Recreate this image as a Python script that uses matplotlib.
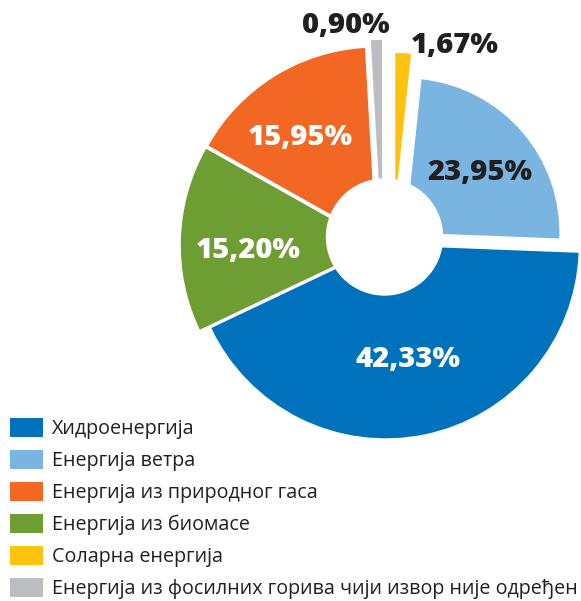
import matplotlib
matplotlib.use("Agg")
import matplotlib.pyplot as plt
from matplotlib.patches import Circle

# pie order: clockwise from 12 o'clock
sources = [
    "Соларна енергија",
    "Енергија ветра",
    "Хидроенергија",
    "Енергија из биомасе",
    "Енергија из природног гаса",
    "Енергија из фосилних горива чији извор није одређен",
]
shares = [1.67, 23.95, 42.33, 15.20, 15.95, 0.90]
legend_order = [2, 1, 4, 3, 0, 5]

colors = ["#FFC20E", "#7AB5E1", "#0071BC", "#6E9E33", "#F26724", "#BCBDC0"]
label_colors = ["#231F20", "#231F20", "white", "white", "white", "#231F20"]
dark = "#231F20"

# layout in pixel units (axes spans the whole figure)
hole_x, hole_y, hole_r = 384.5, 364.0, 58
wedge_shift = [(10.8, 34), (20.9, 4.5), (1.2, -8.3), (-6.7, -8.3), (-8.7, -2.7), (-2.5, -1)]
wedge_radius = [150, 154, 193, 197, 192, 198]
label_pos = [(70.5, 184.3), (95.5, 57), (23.2, -129.7), (-136.5, -21.3), (-84.5, 92), (-38.5, 203.7)]

plt.rcParams["font.family"] = ["Open Sans", "DejaVu Sans"]

fig = plt.figure(figsize=(5.81, 6.01), dpi=100)
ax = fig.add_axes([0, 0, 1, 1])

wedges, _ = ax.pie(
    shares,
    colors=colors,
    startangle=90,
    counterclock=False,
    center=(hole_x, hole_y),
    wedgeprops=dict(linewidth=0),
)
for w, (dx, dy), r in zip(wedges, wedge_shift, wedge_radius):
    w.set_center((hole_x + dx, hole_y + dy))
    w.set_radius(r)

ax.add_patch(Circle((hole_x, hole_y), hole_r, color="white", zorder=3))

for v, (lx, ly), c in zip(shares, label_pos, label_colors):
    txt = f"{v:.2f}".replace(".", ",") + "%"
    ax.text(hole_x + lx, hole_y + ly, txt, ha="center", va="baseline",
            fontsize=21, fontweight=800, color=c, zorder=4)

fs = 14.2
px = fs * 100 / 72
ax.legend(
    [wedges[i] for i in legend_order],
    [sources[i] for i in legend_order],
    loc="upper left",
    bbox_to_anchor=(10 / 581, 1 - 417.5 / 601),
    bbox_transform=fig.transFigure,
    frameon=False,
    fontsize=fs,
    labelcolor=dark,
    handlelength=32.7 / px,
    handleheight=22 / px,
    handletextpad=9 / px,
    labelspacing=0.55,
    borderpad=0,
    borderaxespad=0,
)

ax.set_xlim(0, 581)
ax.set_ylim(0, 601)
ax.set_aspect("equal")
ax.set_axis_off()

fig.savefig("out.png", dpi=100)
